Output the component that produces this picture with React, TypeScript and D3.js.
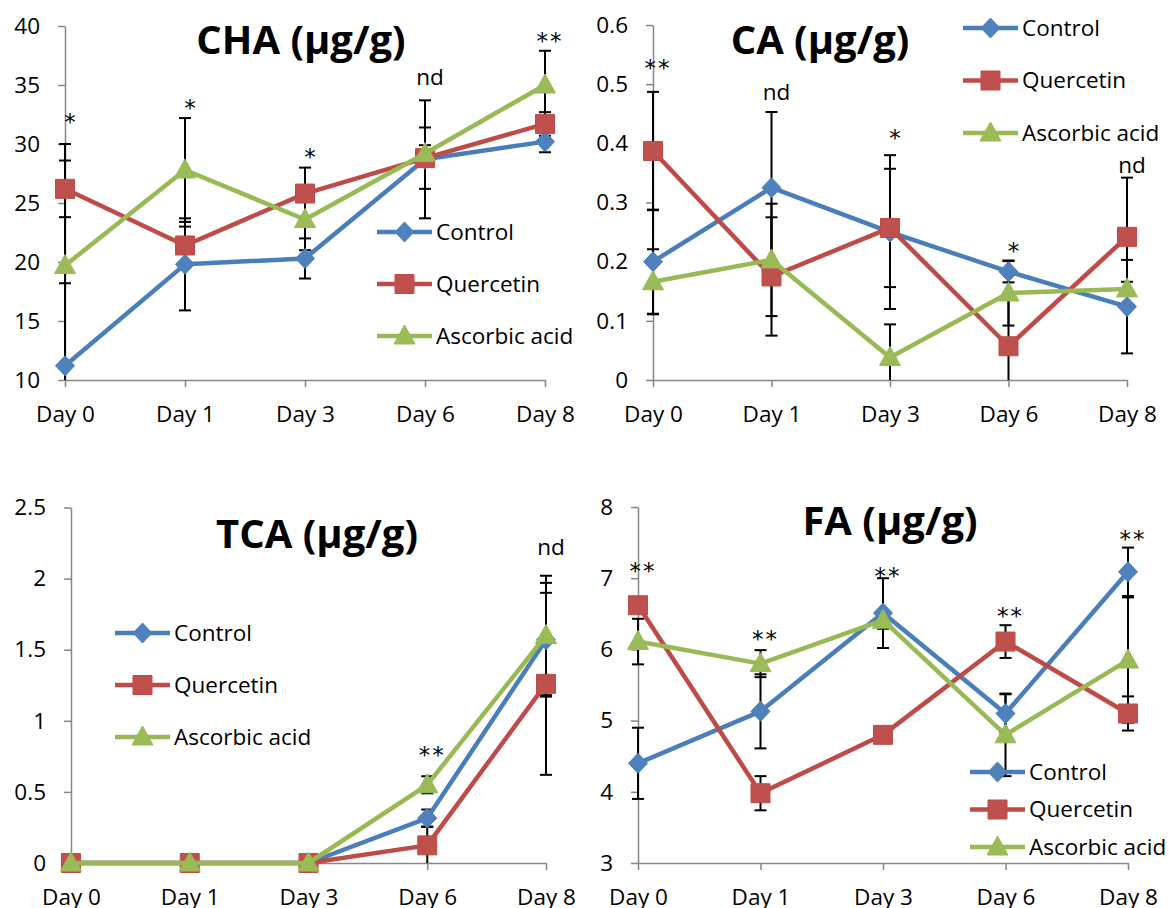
import React, { useEffect, useRef } from "react";
import * as d3 from "d3";

const days = ["Day 0", "Day 1", "Day 3", "Day 6", "Day 8"];
const seriesNames = ["Control", "Quercetin", "Ascorbic acid"];

// CHA (µg/g)
const chaControl = [11.2, 19.8, 20.3, 28.7, 30.2];
const chaControlErr = [7.0, 3.9, 1.7, 5.0, 0.9];
const chaQuercetin = [26.2, 21.4, 25.8, 28.8, 31.7];
const chaQuercetinErr = [2.4, 1.6, 2.2, 2.6, 1.0];
const chaAscorbic = [19.7, 27.8, 23.6, 29.2, 35.0];
const chaAscorbicErr = [10.3, 4.4, 2.6, 0.7, 2.9];
const chaTicks = [10, 15, 20, 25, 30, 35, 40];
const chaSig = ["*", "*", "*", "nd", "**"];
const chaSigAt = [31.5, 32.7, 28.6, 35.0, 38.4];

// CA (µg/g)
const caControl = [0.2, 0.325, 0.25, 0.183, 0.124];
const caControlErr = [0.088, 0.128, 0.13, 0.018, 0.079];
const caQuercetin = [0.387, 0.175, 0.257, 0.057, 0.242];
const caQuercetinErr = [0.1, 0.1, 0.1, 0.09, 0.1];
const caAscorbic = [0.166, 0.203, 0.038, 0.147, 0.154];
const caAscorbicErr = [0.055, 0.095, 0.056, 0.055, 0.012];
const caTicks = [0, 0.1, 0.2, 0.3, 0.4, 0.5, 0.6];
const caSig = ["**", "nd", "*", "*", "nd"];
const caSigAt = [0.52, 0.473, 0.402, 0.211, 0.35];

// TCA (µg/g)
const tcaControl = [0, 0, 0, 0.316, 1.57];
const tcaControlErr = [0, 0, 0, 0.06, 0.4];
const tcaQuercetin = [0, 0, 0, 0.124, 1.26];
const tcaQuercetinErr = [0, 0, 0, 0.13, 0.64];
const tcaAscorbic = [0, 0, 0, 0.55, 1.6];
const tcaAscorbicErr = [0, 0, 0, 0.06, 0.42];
const tcaTicks = [0, 0.5, 1, 1.5, 2, 2.5];
const tcaSig = ["", "", "", "**", "nd"];
const tcaSigAt = [0, 0, 0, 0.733, 2.167];

// FA (µg/g)
const faControl = [4.4, 5.13, 6.51, 5.1, 7.09];
const faControlErr = [0.5, 0.52, 0.49, 0.27, 0.34];
const faQuercetin = [6.62, 3.98, 4.8, 6.11, 5.1];
const faQuercetinErr = [0.1, 0.24, 0.08, 0.23, 0.24];
const faAscorbic = [6.11, 5.8, 6.41, 4.8, 5.85];
const faAscorbicErr = [0.32, 0.19, 0.12, 0.58, 0.88];
const faTicks = [3, 4, 5, 6, 7, 8];
const faSig = ["**", "**", "**", "**", "**"];
const faSigAt = [7.04, 6.09, 6.97, 6.41, 7.49];

const lineColors = ["#4a7ebb", "#be4b48", "#98b954"];
const fillColors = ["#4f81bd", "#c0504d", "#9bbb59"];
const font = "'Open Sans', Lato, sans-serif";
const textSize = 22.5;

const panels = [
  {
    title: "CHA (µg/g)", values: [chaControl, chaQuercetin, chaAscorbic],
    errors: [chaControlErr, chaQuercetinErr, chaAscorbicErr],
    ticks: chaTicks, sig: chaSig, sigAt: chaSigAt,
    xr: [65, 545], yr: [380, 26], titleX: 301, titleY: 54,
    legend: { x: 377, y: 232, step: 52 },
  },
  {
    title: "CA (µg/g)", values: [caControl, caQuercetin, caAscorbic],
    errors: [caControlErr, caQuercetinErr, caAscorbicErr],
    ticks: caTicks, sig: caSig, sigAt: caSigAt,
    xr: [653, 1127], yr: [380, 25], titleX: 820, titleY: 54,
    legend: { x: 963, y: 28, step: 52.5 },
  },
  {
    title: "TCA (µg/g)", values: [tcaControl, tcaQuercetin, tcaAscorbic],
    errors: [tcaControlErr, tcaQuercetinErr, tcaAscorbicErr],
    ticks: tcaTicks, sig: tcaSig, sigAt: tcaSigAt,
    xr: [71, 546], yr: [863, 507.5], titleX: 317, titleY: 548,
    legend: { x: 115, y: 633, step: 52 },
  },
  {
    title: "FA (µg/g)", values: [faControl, faQuercetin, faAscorbic],
    errors: [faControlErr, faQuercetinErr, faAscorbicErr],
    ticks: faTicks, sig: faSig, sigAt: faSigAt,
    xr: [638, 1128], yr: [863, 507], titleX: 890, titleY: 535,
    legend: { x: 970, y: 772, step: 37.5 },
  },
];

// marker shapes, centred on 0,0
const markerPath = (i) => {
  if (i === 0) return "M0,-10L9.5,0L0,10L-9.5,0Z";
  if (i === 1) return "M-9.5,-9.5H9.5V9.5H-9.5Z";
  return "M0,-11L10.5,8H-10.5Z";
};

const drawPanel = (svg, p) => {
  const x = d3.scalePoint().domain(days).range(p.xr);
  const lo = p.ticks[0];
  const hi = p.ticks[p.ticks.length - 1];
  const y = d3.scaleLinear().domain([lo, hi]).range(p.yr);
  const g = svg.append("g");

  const yAxis = g
    .append("g")
    .attr("transform", `translate(${p.xr[0]},0)`)
    .call(d3.axisLeft(y).tickValues(p.ticks).tickSize(7).tickSizeOuter(0).tickPadding(18).tickFormat(d3.format("~g")));
  const xAxis = g
    .append("g")
    .attr("transform", `translate(0,${p.yr[0]})`)
    .call(d3.axisBottom(x).tickSize(7).tickSizeOuter(0).tickPadding(19));
  [yAxis, xAxis].forEach((a) => {
    a.selectAll("path, line").attr("stroke", "#868686").attr("stroke-width", 1.5);
    a.selectAll("text").attr("font-family", font).attr("font-size", textSize).attr("fill", "#000");
  });

  // error bars
  p.values.forEach((vals, s) => {
    vals.forEach((v, i) => {
      const e = p.errors[s][i];
      if (!e) return;
      const cx = x(days[i]);
      const top = Math.min(v + e, hi);
      const bot = Math.max(v - e, lo);
      g.append("line").attr("x1", cx).attr("x2", cx).attr("y1", y(top)).attr("y2", y(bot))
        .attr("stroke", "#000").attr("stroke-width", 2);
      if (v + e <= hi)
        g.append("line").attr("x1", cx - 6).attr("x2", cx + 6).attr("y1", y(top)).attr("y2", y(top))
          .attr("stroke", "#000").attr("stroke-width", 2);
      if (v - e >= lo)
        g.append("line").attr("x1", cx - 6).attr("x2", cx + 6).attr("y1", y(bot)).attr("y2", y(bot))
          .attr("stroke", "#000").attr("stroke-width", 2);
    });
  });

  // series
  const line = d3.line().x((d, i) => x(days[i])).y((d) => y(d));
  p.values.forEach((vals, s) => {
    g.append("path").attr("d", line(vals)).attr("fill", "none")
      .attr("stroke", lineColors[s]).attr("stroke-width", 4.5).attr("stroke-linejoin", "round");
    g.selectAll(null).data(vals).enter().append("path")
      .attr("d", markerPath(s))
      .attr("transform", (d, i) => `translate(${x(days[i])},${y(d)})`)
      .attr("fill", fillColors[s]).attr("stroke", lineColors[s]).attr("stroke-width", 1);
  });

  // significance labels ("nd" as text, asterisks in a font with a larger glyph)
  p.sig.forEach((t, i) => {
    if (!t) return;
    const star = t !== "nd";
    g.append("text").attr("x", x(days[i]) + 5).attr("y", y(p.sigAt[i]) + (star ? 4 : 0))
      .attr("text-anchor", "middle")
      .attr("font-family", star ? "'DejaVu Sans', sans-serif" : font)
      .attr("font-size", star ? 23 : textSize)
      .attr("letter-spacing", t === "**" ? 2 : 0).text(t);
  });

  // title
  g.append("text").attr("x", p.titleX).attr("y", p.titleY).attr("text-anchor", "middle")
    .attr("font-family", font).attr("font-weight", 700).attr("font-size", 40).text(p.title);

  // legend
  const lg = g.append("g").attr("transform", `translate(${p.legend.x},${p.legend.y})`);
  seriesNames.forEach((name, s) => {
    const row = lg.append("g").attr("transform", `translate(0,${s * p.legend.step})`);
    row.append("line").attr("x1", 0).attr("x2", 55).attr("stroke", lineColors[s]).attr("stroke-width", 4.5);
    row.append("path").attr("d", markerPath(s)).attr("transform", "translate(27.5,0)")
      .attr("fill", fillColors[s]).attr("stroke", lineColors[s]).attr("stroke-width", 1);
    row.append("text").attr("x", 59).attr("dy", "0.35em").attr("font-family", font)
      .attr("font-size", textSize).text(name);
  });
};

const App = () => {
  const ref = useRef(null);
  useEffect(() => {
    const svg = d3.select(ref.current);
    svg.selectAll("*").remove();
    panels.forEach((p) => drawPanel(svg, p));
  }, []);
  return (
    <svg
      ref={ref}
      width={1169}
      height={908}
      style={{ position: "absolute", left: 0, top: 0, background: "#fff" }}
    />
  );
};

export default App;
